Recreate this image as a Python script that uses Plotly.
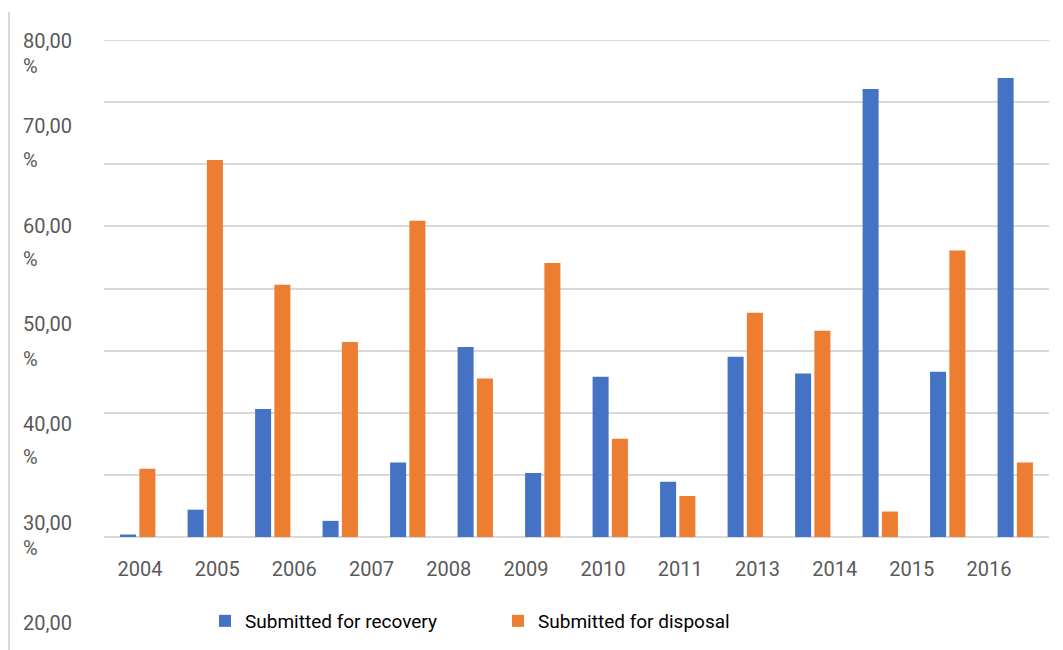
import plotly.graph_objects as go

# ---- data ----
group_index = list(range(14))
recovery = [0.4, 4.4, 20.6, 2.6, 12.0, 30.6, 10.3, 25.8, 8.9, 29.0, 26.3, 72.1, 26.6, 73.9]
disposal = [11.0, 60.7, 40.6, 31.4, 50.9, 25.5, 44.1, 15.8, 6.6, 36.1, 33.2, 4.1, 46.1, 12.0]
year_labels = ["2004", "2005", "2006", "2007", "2008", "2009", "2010", "2011",
               "2013", "2014", "2015", "2016"]
y_label_numbers = ["80,00", "70,00", "60,00", "50,00", "40,00", "30,00", "20,00"]
y_max = 80

# ---- layout constants (page body has an 8px default margin) ----
OFF = 8
W, H = 1063 - OFF, 650 - OFF
ML, MR, MT, MB = 104 - OFF, 14, 40 - OFF, 113
PW = W - ML - MR
PH = H - MT - MB

def px_x(page_px):
    return (page_px - OFF - ML) / PW

def px_y(page_py):
    return (H - MB - (page_py - OFF)) / PH

BLUE = "#4472C4"
ORANGE = "#ED7D31"
GRID = "#d9d9d9"
TXT = "#595959"
FONT = "Roboto"

fig = go.Figure()
fig.add_trace(go.Bar(x=group_index, y=recovery, name="Submitted for recovery",
                     marker=dict(color=BLUE, line=dict(width=0))))
fig.add_trace(go.Bar(x=group_index, y=disposal, name="Submitted for disposal",
                     marker=dict(color=ORANGE, line=dict(width=0))))
# invisible trace carrying the category labels on the overlaid axis
fig.add_trace(go.Scatter(x=year_labels, y=[0] * len(year_labels), xaxis="x2",
                         mode="markers", marker=dict(opacity=0), showlegend=False,
                         hoverinfo="skip"))

# y-axis label texts (wrapped: number line + % line)
num_py = [41, 126, 226, 324, 424, 523, 623]
pct_py = [66, 160, 259, 359, 457, 548]
for i, t in enumerate(y_label_numbers):
    fig.add_annotation(text=t, xref="paper", yref="paper", x=px_x(21), y=px_y(num_py[i]),
                       xanchor="left", yanchor="middle", showarrow=False,
                       font=dict(family=FONT, size=20, color=TXT))
for i, py in enumerate(pct_py):
    fig.add_annotation(text="%", xref="paper", yref="paper", x=px_x(21), y=px_y(py),
                       xanchor="left", yanchor="middle", showarrow=False,
                       font=dict(family=FONT, size=20, color=TXT))

# top gridline (at the edge of the plot area)
fig.add_shape(type="line", xref="paper", yref="y", x0=0, x1=1, y0=y_max, y1=y_max,
              line=dict(color=GRID, width=2), layer="below")
# left vertical line
fig.add_shape(type="line", xref="paper", yref="paper", x0=px_x(9), x1=px_x(9),
              y0=px_y(12), y1=px_y(650), line=dict(color=GRID, width=2))

fig.update_layout(
    width=W, height=H,
    margin=dict(l=ML, r=MR, t=MT, b=MB, autoexpand=False),
    paper_bgcolor="white", plot_bgcolor="white",
    barmode="group", bargap=0.428, bargroupgap=0.17,
    font=dict(family=FONT, color=TXT),
    xaxis=dict(range=[-0.5, 13.5], showticklabels=False, showgrid=False,
               zeroline=False, showline=False, ticks=""),
    xaxis2=dict(overlaying="x", anchor="y", side="bottom", type="category",
                categoryorder="array", categoryarray=year_labels,
                range=[-0.466, 11.777], showgrid=False, zeroline=False, showline=False,
                ticks="", ticklabelstandoff=18,
                tickfont=dict(family=FONT, size=20, color=TXT)),
    yaxis=dict(range=[0, y_max], dtick=10, showticklabels=False, gridcolor=GRID,
               gridwidth=2, zeroline=True, zerolinecolor=GRID, zerolinewidth=2,
               showline=False, ticks=""),
    legend=dict(orientation="h", x=px_x(205), y=px_y(621), xanchor="left",
                yanchor="middle", entrywidth=248, entrywidthmode="pixels",
                font=dict(family=FONT, size=19, color="#000000"),
                bgcolor="rgba(0,0,0,0)"),
    showlegend=True,
)

fig.write_html("out.html")
